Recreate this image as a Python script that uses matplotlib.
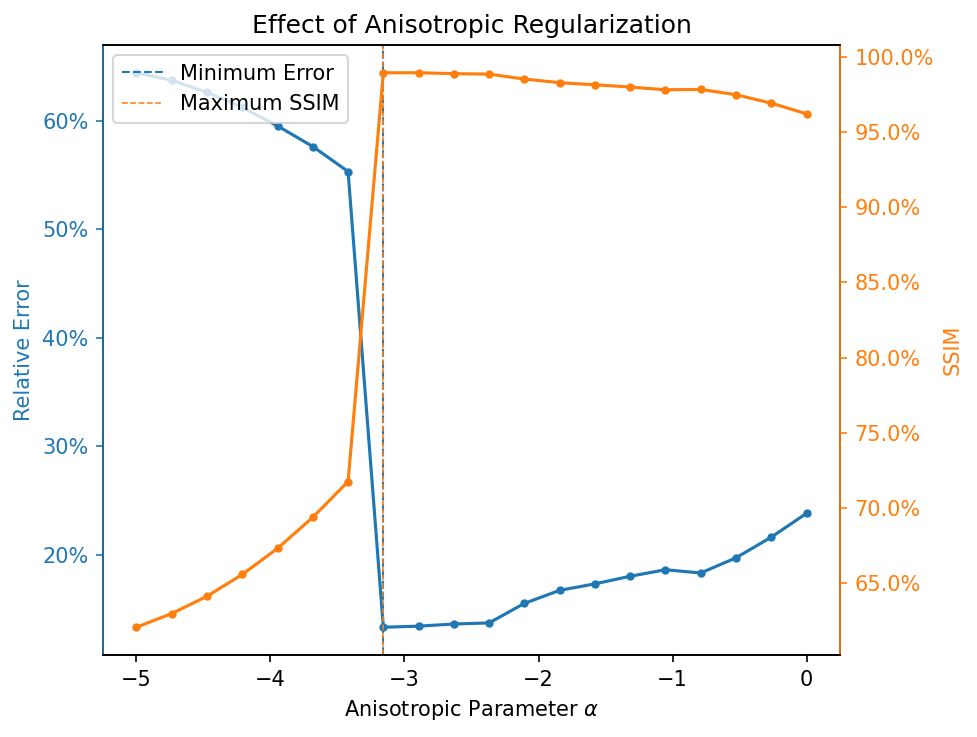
import matplotlib.pyplot as plt
import numpy as np
from matplotlib.ticker import PercentFormatter

# anisotropic parameter sweep
alpha = np.linspace(-5, 0, 20)

rel_error = [0.644, 0.637, 0.626, 0.612, 0.595, 0.576, 0.553,
             0.133, 0.134, 0.136, 0.137, 0.155, 0.167, 0.173,
             0.180, 0.186, 0.183, 0.197, 0.216, 0.238]

ssim = [0.6207, 0.6298, 0.6413, 0.6558, 0.6731, 0.6938, 0.7175,
        0.9893, 0.9893, 0.9887, 0.9884, 0.9851, 0.9827, 0.9813,
        0.9798, 0.9780, 0.9782, 0.9747, 0.9691, 0.9620]

c_err = 'tab:blue'
c_ssim = 'tab:orange'

fig, ax1 = plt.subplots(figsize=(977 / 150, 737 / 150), dpi=150)
fig.subplots_adjust(left=0.1054, right=0.8598, top=0.9389, bottom=0.1113)

ax1.plot(alpha, rel_error, '.-', color=c_err)
ax1.set_xlabel(r'Anisotropic Parameter $\alpha$')
ax1.set_ylabel('Relative Error', color=c_err)
ax1.tick_params(axis='y', colors=c_err)
ax1.yaxis.set_major_formatter(PercentFormatter(1.0, decimals=0))

ax2 = ax1.twinx()
ax2.plot(alpha, ssim, '.-', color=c_ssim)
ax2.set_ylabel('SSIM', color=c_ssim)
ax2.tick_params(axis='y', colors=c_ssim)
ax2.yaxis.set_major_formatter(PercentFormatter(1.0, decimals=1))

# best settings
i_min = int(np.argmin(rel_error))
i_max = int(np.argmax(ssim))
l1 = ax1.axvline(alpha[i_min], color=c_err, linestyle='--', linewidth=1, label='Minimum Error')
l2 = ax1.axvline(alpha[i_max], color=c_ssim, linestyle='--', linewidth=0.75, label='Maximum SSIM')

ax2.spines['left'].set_color(c_err)
ax2.spines['right'].set_color(c_ssim)

ax1.legend(handles=[l1, l2], loc='upper left')
plt.title('Effect of Anisotropic Regularization')

plt.savefig('out.png', dpi=150)
